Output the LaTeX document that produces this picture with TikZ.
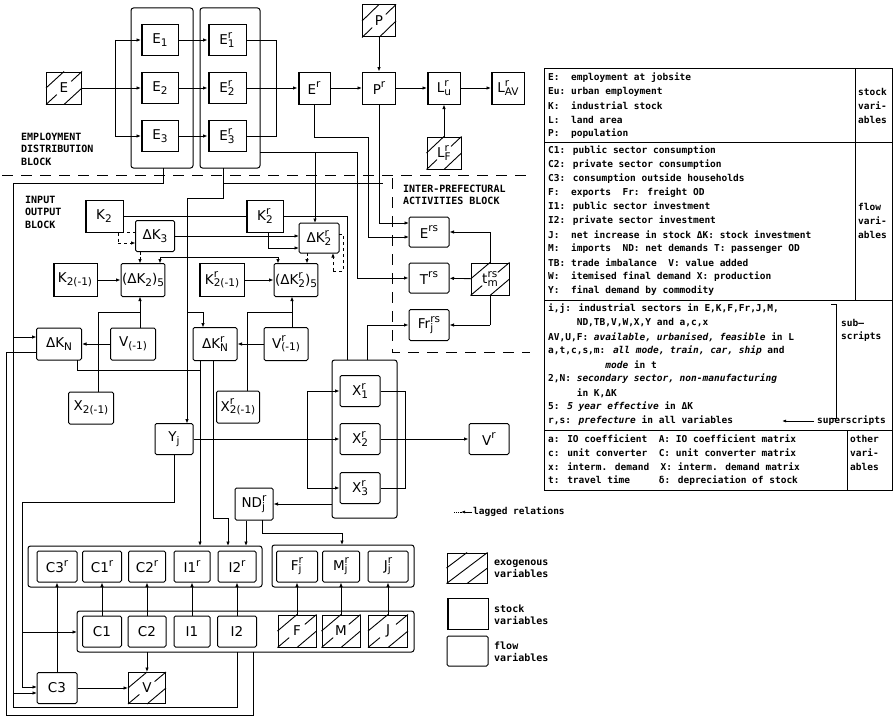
\documentclass[tikz,border=0pt]{standalone}
\usepackage{fontspec}
\setmainfont{DejaVu Sans}
\newfontfamily\nodefont{DejaVu Sans}
\newfontfamily\tabfont{DejaVu Sans Mono}
\usetikzlibrary{arrows.meta,calc}
\newsavebox\bxa
\newsavebox\bxb
\newcommand\lsub[1]{\raisebox{-0.35ex}{\fontsize{10.5}{11}\selectfont #1}}
\newcommand\lsup[1]{\raisebox{0.85ex}{\fontsize{10.5}{11}\selectfont #1}}
\newcommand\lss[2]{\sbox\bxa{\lsup{#1}}\sbox\bxb{\lsub{#2}}\ifdim\wd\bxa>\wd\bxb\rlap{\usebox\bxb}\usebox\bxa\else\rlap{\usebox\bxa}\usebox\bxb\fi}
\newcommand\hatchbox[2][0.3]{%
  \draw[hln] ($(#2.south west)!0.5!(#2.north west)$) -- ($(#2.north west)!0.5!(#2.north east)$);
  \draw[hln] ($(#2.south west)!0.5!(#2.south east)$) -- ($(#2.south east)!0.5!(#2.north east)$);
  \draw[hln] (#2.south west) -- ($(#2.south west)!#1!(#2.north east)$);
  \draw[hln] ($(#2.north east)!#1!(#2.south west)$) -- (#2.north east);}
\begin{document}
\begin{tikzpicture}[x=1pt,y=-1pt,
  bx/.style={draw,line width=1pt,minimum width=37pt,minimum height=31pt,inner sep=1pt,font=\nodefont\fontsize{13.5}{14}\selectfont},
  bxs/.style={bx,path picture={\draw[line width=3.4pt](path picture bounding box.south west)--(path picture bounding box.north west);}},
  bxf/.style={bx,rounded corners=1.5pt},
  bxe/.style={bx},
  blkst/.style={draw,line width=1pt,rounded corners=2.5pt,inner sep=0pt},
  cn/.style={line width=0.85pt},
  cna/.style={cn,-{Latex[length=4.5pt,width=3.5pt]}},
  dsh/.style={line width=1pt,dash pattern=on 11pt off 8pt},
  hln/.style={line width=0.9pt},
  tabt/.style={anchor=west,inner sep=0pt,font=\tabfont\bfseries\fontsize{9.5}{10}\selectfont},
  labt/.style={anchor=west,inner sep=0pt,align=left,font=\tabfont\bfseries\fontsize{10}{12.5}\selectfont},
]
\useasboundingbox (0,0) rectangle (893,717);

% ---------------- employment block
\node[bxe,minimum width=35pt,minimum height=32pt] (E) at (64,88) {E};
\hatchbox{E}
\node[blkst,minimum width=62pt,minimum height=160pt] (bE) at (162,88) {};
\node[bxs] (E1) at (160,40) {E\lsub{1}};
\node[bxs] (E2) at (160,88) {E\lsub{2}};
\node[bxs] (E3) at (160,136) {E\lsub{3}};
\node[blkst,minimum width=60pt,minimum height=160pt] (bEr) at (230,88) {};
\node[bxs,minimum width=38pt] (E1r) at (227,40) {E\lss{r}{1}};
\node[bxs,minimum width=38pt] (E2r) at (227,88) {E\lss{r}{2}};
\node[bxs,minimum width=38pt] (E3r) at (227,136) {E\lss{r}{3}};
\node[bxs,minimum width=32pt,minimum height=32pt] (Er) at (314,88) {E\lsup{r}};
\node[bxe,minimum width=33pt,minimum height=32pt] (P) at (379,21) {P};
\hatchbox{P}
\node[bx,minimum width=33pt,minimum height=32pt] (Pr) at (379,88) {P\lsup{r}};
\node[bxs,minimum width=33pt,minimum height=32pt] (Lu) at (444,88) {L\lss{r}{u}};
\node[bxs,minimum width=33pt,minimum height=32pt] (Lav) at (508,88) {L\lss{r}{AV}};
\node[bxe,minimum width=34pt,minimum height=32pt] (Lf) at (444,153) {L\lss{r}{F}};
\hatchbox{Lf}

\draw[cn] (E.east) -- (115,88);
\draw[cn] (115,40) -- (115,136);
\draw[cna] (115,40) -- (E1.west);
\draw[cna] (115,88) -- (E2.west);
\draw[cna] (115,136) -- (E3.west);
\draw[cna] (E1) -- (E1r);
\draw[cna] (E2) -- (E2r);
\draw[cna] (E3) -- (E3r);
\draw[cn] (E1r.east) -- (276,40) -- (276,136) -- (E3r.east);
\draw[cna] (E2r) -- (Er);
\draw[cna] (Er) -- (Pr);
\draw[cna] (P) -- (Pr);
\draw[cna] (Pr) -- (Lu);
\draw[cna] (Lu) -- (Lav);
\draw[cna] (Lf) -- (Lu);

\node[labt] (tEDB) at (21,149) {EMPLOYMENT\\DISTRIBUTION\\BLOCK};
\node[labt] (tIO) at (25,212) {INPUT\\OUTPUT\\BLOCK};
\node[labt] (tIP) at (403,195) {INTER-PREFECTURAL\\ACTIVITIES BLOCK};
\draw[dsh] (2,175) -- (526,175);
\draw[dsh] (392,178) -- (392,352) -- (530,352);

% ---------------- input output block
\node[bxs,minimum width=38pt,minimum height=32pt] (K2) at (104,216) {K\lsub{2}};
\node[bxs,minimum width=37pt,minimum height=32pt] (K2r) at (265,216) {K\lss{r}{2}};
\node[bxf,minimum width=39pt,minimum height=31pt] (dK3) at (155,236) {ΔK\lsub{3}};
\node[bxf,minimum width=40pt,minimum height=30pt] (dK2r) at (319,238) {ΔK\lss{r}{2}};
\node[bxs,minimum width=44pt,minimum height=33pt] (K2m) at (75,280) {K\lsub{2(-1)}};
\node[bxf,minimum width=41pt,minimum height=33pt] (dK2s) at (143,280) {(ΔK\lsub{2})\lsub{5}};
\node[bxs,minimum width=45pt,minimum height=33pt] (K2rm) at (222,280) {K\lss{r}{2(-1)}};
\node[bxf,minimum width=42pt,minimum height=33pt] (dK2rs) at (296,280) {(ΔK\lss{r}{2})\lsub{5}};
\node[bxf,minimum width=45pt,minimum height=32pt] (Vm) at (133,344) {V\lsub{(-1)}};
\node[bxf,minimum width=45pt,minimum height=32pt] (dKN) at (59,344) {ΔK\lsub{N}};
\node[bxf,minimum width=44pt,minimum height=33pt] (dKNr) at (215,344) {ΔK\lss{r}{N}};
\node[bxf,minimum width=44pt,minimum height=33pt] (Vrm) at (286,344) {V\lss{r}{(-1)}};
\node[bxf,minimum width=45pt,minimum height=32pt] (X2m) at (91,408) {X\lsub{2(-1)}};
\node[bxf,minimum width=43pt,minimum height=32pt] (X2rm) at (238,407) {X\lss{r}{2(-1)}};
\node[bxf,minimum width=38pt,minimum height=31pt] (Yj) at (174,439) {Y\lsub{j}};

\node[blkst,minimum width=65pt,minimum height=158pt] (bX) at (364.5,439) {};
\node[bxf,minimum width=40pt,minimum height=31pt] (X1) at (360,391) {X\lss{r}{1}};
\node[bxf,minimum width=40pt,minimum height=31pt] (X2) at (360,439) {X\lss{r}{2}};
\node[bxf,minimum width=40pt,minimum height=31pt] (X3) at (360,488) {X\lss{r}{3}};
\node[bxf,minimum width=40pt,minimum height=31pt] (Vr) at (489,439) {V\lsup{r}};
\node[bxf,minimum width=38pt,minimum height=32pt] (ND) at (254,504) {ND\lss{r}{j}};

% inter-prefectural
\node[bxf,minimum width=40pt,minimum height=30pt] (Ers) at (429,232) {E\lsup{rs}};
\node[bxf,minimum width=40pt,minimum height=30pt] (Trs) at (429,278) {T\lsup{rs}};
\node[bxf,minimum width=40pt,minimum height=31pt] (Frs) at (429,325) {Fr\lss{rs}{j}};
\node[bxe,minimum width=38pt,minimum height=32pt] (tm) at (490,279) {t\lss{rs}{m}};
\hatchbox{tm}

% connectors of the upper blocks
\draw[cn] (163,168) -- (163,183) -- (13,183) -- (13,707) -- (237,707) -- (237,652);
\draw[cna] (13,693) -- (37,693);
\draw[cna] (223,168) -- (223,198) -- (187,198) -- (187,423.5);
\draw[cn] (223,183) -- (383,183);
\draw[cn] (160,257) -- (278,257);
\draw[cna] (160,257) -- (160,263.5);
\draw[cna] (278,257) -- (278,263.5);
\draw[cn] (187,312) -- (203,312);
\draw[cna] (203,312) -- (203,327.5);
\draw[cn] (K2) -- (K2r);
\draw[cna] (dK3.east) -- (299,236);
\draw[cn,dashed] (135.5,232) -- (118,232) -- (118,243);
\draw[cna,dashed] (118,243) -- (135.5,243);
\draw[cna,densely dashed] (140,251.5) -- (140,263.5);
\draw[cn] (268,232) -- (268,248);
\draw[cna] (268,248) -- (299,248);
\draw[cn] (K2r.east) -- (347,216) -- (347,360);
\draw[cna] (315,152) -- (315,223);
\draw[cn,dashed] (339,234) -- (343,234) -- (343,271) -- (333,271);
\draw[cna,dashed] (333,271) -- (333,253);
\draw[cna,densely dashed] (307,253) -- (307,263.5);
\draw[cna] (K2m) -- (dK2s);
\draw[cna] (K2rm) -- (dK2rs);
\draw[cna] (140,328) -- (140,296.5);
\draw[cna] (Vm) -- (dKN);
\draw[cn] (98,392) -- (98,312) -- (140,312);
\draw[cna] (292,327.5) -- (292,296.5);
\draw[cna] (Vrm) -- (dKNr);
\draw[cn] (247,391) -- (247,312) -- (292,312);
\draw[cna] (13,337) -- (36.5,337);
\draw[cn] (36.5,352) -- (6,352) -- (6,715) -- (253,715) -- (253,652);
\draw[cn] (77,360) -- (77,370) -- (200,370) -- (200,360.5);
\draw[cna] (200,370) -- (200,546);
\draw[cn] (213,360.5) -- (213,518) -- (228,518);
\draw[cna] (228,518) -- (228,546);
\draw[cn] (260,152) -- (357,152) -- (357,278);
\draw[cna] (357,278) -- (Trs.west);
\draw[cn] (Er.south) -- (314,137) -- (368,137) -- (368,237);
\draw[cna] (368,237) -- (409,237);
\draw[cn] (Pr.south) -- (379,223);
\draw[cna] (379,223) -- (409,223);
\draw[cn] (tm.north) -- (490,232);
\draw[cna] (490,232) -- (Ers.east |- 0,232);
\draw[cna] (tm) -- (Trs);
\draw[cn] (tm.south) -- (490,325);
\draw[cna] (490,325) -- (Frs.east);
\draw[cn] (367,360) -- (367,325);
\draw[cna] (367,325) -- (Frs.west);

% production block
\draw[cna] (Yj) -- (X2);
\draw[cn] (307,391) -- (307,488);
\draw[cna] (307,391) -- (X1.west);
\draw[cna] (307,488) -- (X3.west);
\draw[cn] (X1.east) -- (405,391) -- (405,488) -- (X3.east);
\draw[cna] (X2) -- (Vr);
\draw[cna] (332,504) -- (ND.east);
\draw[cn] (Yj.south) -- (174,502) -- (22,502) -- (22,687);
\draw[cna] (22,687) -- (37,687);
\draw[cna] (22,632) -- (77,632);

% ---------------- final demand rows
\node[blkst,minimum width=234pt,minimum height=41pt] (bR1) at (145,566.5) {};
\node[bxf,minimum width=40pt] (C3r) at (57,566.5) {C3\lsup{r}};
\node[bxf,minimum width=39pt] (C1r) at (102,566.5) {C1\lsup{r}};
\node[bxf,minimum width=37pt] (C2r) at (147,566.5) {C2\lsup{r}};
\node[bxf,minimum width=36pt] (I1r) at (192,566.5) {I1\lsup{r}};
\node[bxf,minimum width=38pt] (I2r) at (237,566.5) {I2\lsup{r}};
\node[blkst,minimum width=142pt,minimum height=42pt] (bR2) at (343,566) {};
\node[bxf,minimum width=41pt] (Fjr) at (297,566.5) {F\lss{r}{j}};
\node[bxf,minimum width=37pt] (Mjr) at (341,566.5) {M\lss{r}{j}};
\node[bxf,minimum width=40pt] (Jjr) at (388,566.5) {J\lss{r}{j}};
\node[blkst,minimum width=337pt,minimum height=41pt] (bR3) at (245.5,631.5) {};
\node[bxf,minimum width=39pt] (C1) at (102,631.5) {C1};
\node[bxf,minimum width=38pt] (C2) at (147,631.5) {C2};
\node[bxf,minimum width=36pt] (I1) at (192,631.5) {I1};
\node[bxf,minimum width=39pt] (I2) at (237,631.5) {I2};
\node[bxe,minimum width=38pt,minimum height=32pt] (F) at (297,631) {F};
\hatchbox{F}
\node[bxe,minimum width=38pt,minimum height=32pt] (M) at (341,631) {M};
\hatchbox{M}
\node[bxe,minimum width=39pt,minimum height=32pt] (J) at (388,631) {J};
\hatchbox{J}
\node[bxf,minimum width=40pt] (C3) at (57,688) {C3};
\node[bxe,minimum width=37pt] (V) at (147,688) {V};
\hatchbox{V}

\draw[cna] (ND.south -| 246,0) -- (246,546);
\draw[cn] (262,520) -- (262,533) -- (342,533);
\draw[cna] (342,533) -- (342,545);
\draw[cna] (C3) -- (C3r);
\draw[cna] (C1) -- (C1r);
\draw[cna] (C2) -- (C2r);
\draw[cna] (I1) -- (I1r);
\draw[cna] (I2) -- (I2r);
\draw[cna] (F) -- (Fjr);
\draw[cna] (M) -- (Mjr);
\draw[cna] (J) -- (Jjr);
\draw[cna] (147,652) -- (V.north);
\draw[cna] (C3) -- (V);

% ---------------- legend
\draw[cn,densely dotted] (454,512) -- (462,512);
\draw[cn,-{Latex[length=4pt,width=3pt]}] (472,512) -- (461,512);
\node[tabt] (tlag) at (473,512) {lagged relations};
\node[bxe,minimum width=40pt,minimum height=30pt] (legX) at (467,568) {};
\hatchbox[0.5]{legX}
\node[bxs,minimum width=41pt,minimum height=31pt] (legS) at (467.5,614) {};
\node[bxf,minimum width=41pt,minimum height=30pt] (legF) at (467.5,651) {};
\node[labt] (tlX) at (494,569) {exogenous\\variables};
\node[labt] (tlS) at (494,615) {stock\\variables};
\node[labt] (tlF) at (494,652) {flow\\variables};

% ---------------- table
\draw[line width=1pt] (544,68) rectangle (892,490);
\draw[line width=1pt] (544,142) -- (892,142);
\draw[line width=1pt] (544,300) -- (892,300);
\draw[line width=1pt] (544,430) -- (892,430);
\draw[line width=1pt] (855,68) -- (855,300);
\draw[line width=1pt] (847,430) -- (847,490);
\draw[line width=0.85pt] (831,304) -- (836,304) -- (836,418) -- (831,418);

\node[tabt] (s1) at (548,78) {E:~~employment at jobsite};
\node[tabt] (s2) at (548,92) {Eu:~urban employment};
\node[tabt] (s3) at (548,106) {K:~~industrial stock};
\node[tabt] (s4) at (548,120) {L:~~land area};
\node[tabt] (s5) at (548,134) {P:~~population};
\node[tabt] (sl1) at (858,92) {stock};
\node[tabt] (sl2) at (858,106) {vari-};
\node[tabt] (sl3) at (858,120) {ables};

\node[tabt] (f1) at (548,151) {C1: public sector consumption};
\node[tabt] (f2) at (548,165) {C2: private sector consumption};
\node[tabt] (f3) at (548,179) {C3: consumption outside households};
\node[tabt] (f4) at (548,193) {F:~~exports~~Fr: freight OD};
\node[tabt] (f5) at (548,207) {I1: public sector investment};
\node[tabt] (f6) at (548,221) {I2: private sector investment};
\node[tabt] (f7) at (548,235) {J:~~net increase in stock ΔK: stock investment};
\node[tabt] (f8) at (548,249) {M:~~imports~~ND: net demands T: passenger OD};
\node[tabt] (f9) at (548,263) {TB: trade imbalance~~V: value added};
\node[tabt] (f10) at (548,277) {W:~~itemised final demand X: production};
\node[tabt] (f11) at (548,291) {Y:~~final demand by commodity};
\node[tabt] (fl1) at (858,207) {flow};
\node[tabt] (fl2) at (858,221) {vari-};
\node[tabt] (fl3) at (858,235) {ables};

\node[tabt] (u1) at (548,309) {i,j: industrial sectors in E,K,F,Fr,J,M,};
\node[tabt] (u2) at (548,323) {~~~~~ND,TB,V,W,X,Y and a,c,x};
\node[tabt] (u3) at (548,337) {AV,U,F: \textit{available, urbanised, feasible} in L};
\node[tabt] (u4) at (548,351) {a,t,c,s,m: \textit{all mode, train, car, ship} and};
\node[tabt] (u5) at (548,365) {~~~~~~~~~~\textit{mode} in t};
\node[tabt] (u6) at (548,379) {2,N: \textit{secondary sector, non-manufacturing}};
\node[tabt] (u7) at (548,393) {~~~~~in K,ΔK};
\node[tabt] (u8) at (548,407) {5: \textit{5 year effective} in ΔK};
\node[tabt] (u9) at (548,421) {r,s: \textit{prefecture} in all variables};
\node[tabt] (u10) at (817,421) {superscripts};
\draw[cn,-{Latex[length=4pt,width=3pt]}] (814,421) -- (782,421);
\node[tabt] (ul1) at (841,323) {sub–};
\node[tabt] (ul2) at (841,337) {scripts};

\node[tabt] (o1) at (548,439) {a: IO coefficient~~A: IO coefficient matrix};
\node[tabt] (o2) at (548,453) {c: unit converter~~C: unit converter matrix};
\node[tabt] (o3) at (548,467) {x: interm. demand~~X: interm. demand matrix};
\node[tabt] (o4) at (548,481) {t: travel time~~~~~δ: depreciation of stock};
\node[tabt] (ol1) at (850,439) {other};
\node[tabt] (ol2) at (850,453) {vari-};
\node[tabt] (ol3) at (850,467) {ables};
\end{tikzpicture}
\end{document}
